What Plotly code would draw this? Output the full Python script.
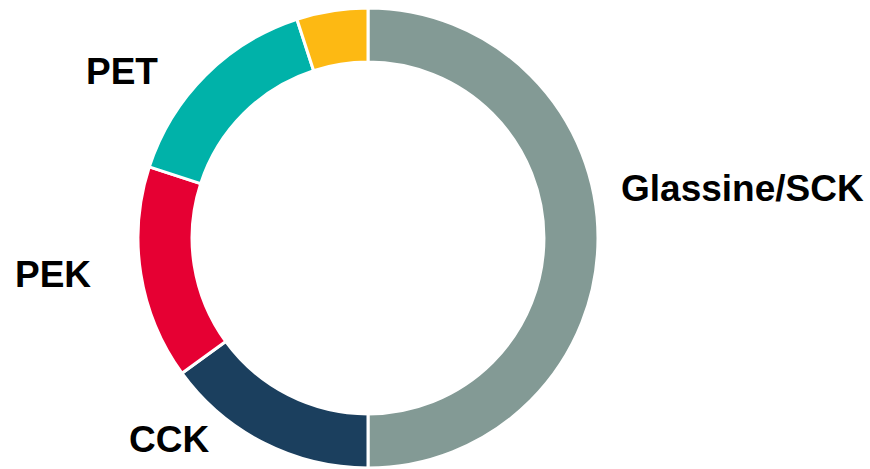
import plotly.graph_objects as go

labels = ["Glassine/SCK", "CCK", "PEK", "PET", "Other"]
values = [50, 15, 15, 15, 5]
colors = ["#839A95", "#1B3F5E", "#E60033", "#00B2A9", "#FDB913"]
shown = [True, True, True, True, False]
# label anchor positions in pixels (x, y of text centre)
label_pos = [(742, 188), (169, 439), (53, 274), (122, 72), None]

W, H = 870, 469
cx, cy, r = 368, 238, 230

fig = go.Figure(go.Pie(
    labels=labels,
    values=values,
    marker=dict(colors=colors, line=dict(color="white", width=3)),
    hole=0.765,
    sort=False,
    direction="clockwise",
    rotation=0,
    textinfo="none",
    hoverinfo="label+percent",
    showlegend=False,
    domain=dict(x=[(cx - r) / W, (cx + r) / W], y=[1 - (cy + r) / H, 1 - (cy - r) / H]),
))

for lab, show, pos in zip(labels, shown, label_pos):
    if not show:
        continue
    fig.add_annotation(
        text="<b>%s</b>" % lab,
        x=pos[0] / W, y=1 - pos[1] / H, xref="paper", yref="paper",
        xanchor="center", yanchor="middle", showarrow=False,
        font=dict(family="Liberation Sans, Arial, sans-serif", size=37, color="black"),
    )

fig.update_layout(
    width=W, height=H,
    margin=dict(l=0, r=0, t=0, b=0),
    paper_bgcolor="white", plot_bgcolor="white",
)

fig.write_html("out.html")
